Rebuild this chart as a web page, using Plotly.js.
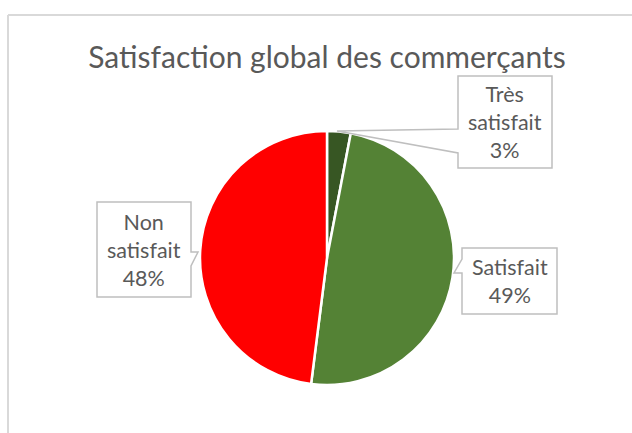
<!DOCTYPE html>
<html>
<head>
<meta charset="utf-8">
<script src="https://cdn.plot.ly/plotly-3.0.1.min.js"></script>
<style>
  body { margin: 0; background: #fff; }
  #chart { width: 632px; height: 433px; }
</style>
</head>
<body>
<div id="chart"></div>
<script>
// data
var labels = ["Très satisfait", "Satisfait", "Non satisfait"];
var values = [3, 49, 48];
var colors = ["#375623", "#548235", "#FF0000"];
var labelLines = ["Très<br>satisfait", "Satisfait", "Non<br>satisfait"];

var W = 632, H = 433;
// helpers to go from pixel spots to paper coords
function px(x) { return x / W; }
function py(y) { return 1 - y / H; }
function pt(x, y) { return px(x) + "," + py(y); }

var trace = {
    type: "pie",
    labels: labels,
    values: values,
    sort: false,
    direction: "clockwise",
    rotation: 0,
    textinfo: "none",
    hoverinfo: "label+percent",
    marker: { colors: colors, line: { color: "#ffffff", width: 2.5 } },
    domain: { x: [px(200), px(454)], y: [py(385), py(131)] },
    showlegend: false
};

var total = values.reduce((a, b) => a + b, 0);
var pct = values.map(v => Math.round(v / total * 100) + "%");

// callout boxes: rect + pointer outline (pixel spots, turned into paper coords)
var boxes = [
    { x0: 458, x1: 552, y0: 76, y1: 168,
      outline: [[458,76],[552,76],[552,168],[458,168],[458,153],[337,131],[458,129]] },
    { x0: 462, x1: 557, y0: 248, y1: 314,
      outline: [[462,248],[557,248],[557,314],[462,314],[462,273],[454,273],[462,259]] },
    { x0: 97, x1: 191, y0: 202, y1: 297,
      outline: [[97,202],[191,202],[191,252],[198,252],[191,266],[191,297],[97,297]] }
];

var annotations = boxes.map(function(b, i) {
    return {
        xref: "paper", yref: "paper",
        x: px((b.x0 + b.x1) / 2), y: py((b.y0 + b.y1) / 2),
        xanchor: "center", yanchor: "middle",
        text: labelLines[i] + "<br>" + pct[i],
        showarrow: false,
        align: "center",
        font: { family: "Lato, 'Open Sans', sans-serif", size: 21.5, color: "#595959" }
    };
});

var calloutShapes = boxes.map(function(b) {
    return {
        type: "path", xref: "paper", yref: "paper", layer: "above",
        path: "M" + b.outline.map(p => pt(p[0], p[1])).join("L") + "Z",
        fillcolor: "#ffffff",
        line: { color: "#bfbfbf", width: 1.5 }
    };
});

var layout = {
    width: W,
    height: H,
    margin: { l: 0, r: 0, t: 0, b: 0 },
    paper_bgcolor: "#ffffff",
    font: { family: "Lato, 'Open Sans', sans-serif", color: "#595959" },
    title: {
        text: "Satisfaction global des commerçants",
        font: { family: "Lato, 'Open Sans', sans-serif", size: 30, color: "#595959" },
        x: px(327), y: py(57), xanchor: "center", yanchor: "middle",
        xref: "paper", yref: "paper"
    },
    annotations: annotations,
    shapes: calloutShapes.concat([
        // chart frame (only top & left show in the crop)
        { type: "line", xref: "paper", yref: "paper",
          x0: px(8), y0: 0, x1: px(8), y1: py(15),
          line: { color: "#d9d9d9", width: 2 } },
        { type: "line", xref: "paper", yref: "paper",
          x0: px(8), y0: py(15), x1: 1, y1: py(15),
          line: { color: "#d9d9d9", width: 2 } }
    ])
};

Plotly.newPlot("chart", [trace], layout, { displayModeBar: false, staticPlot: true });
</script>
</body>
</html>
